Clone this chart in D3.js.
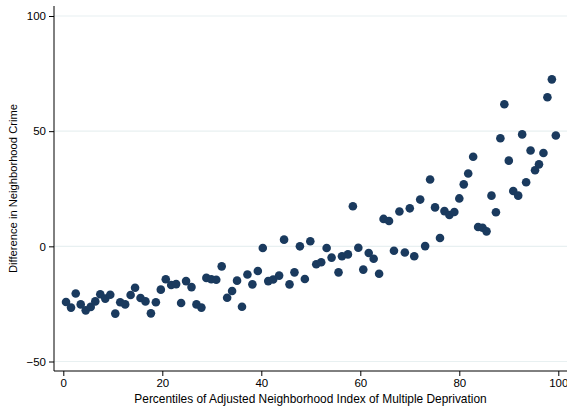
<!DOCTYPE html>
<html>
<head>
<meta charset="utf-8">
<script src="https://cdn.jsdelivr.net/npm/d3@7"></script>
<style>
  html, body { margin: 0; padding: 0; background: #fff; }
  svg { display: block; }
  text { font-family: "Liberation Sans", Arial, Helvetica, sans-serif; fill: #000; }
</style>
</head>
<body>
<svg id="chart" width="567" height="410"></svg>
<script>
// Percentile (x) values
const percentiles = [
  0.55, 1.56, 2.51, 3.52, 4.53, 5.54, 6.46, 7.47, 8.48, 9.49,
  10.5, 11.5, 12.5, 13.6, 14.5, 15.6, 16.6, 17.7, 18.7, 19.7,
  20.7, 21.8, 22.8, 23.8, 24.8, 25.9, 26.9, 27.9, 28.9, 29.9,
  30.9, 32.0, 33.1, 34.1, 35.1, 36.1, 37.2, 38.2, 39.3, 40.3,
  41.4, 42.4, 43.6, 44.6, 45.7, 46.7, 47.8, 48.8, 49.9, 51.1,
  52.1, 53.2, 54.2, 55.6, 56.3, 57.5, 58.5, 59.6, 60.6, 61.7,
  62.7, 63.8, 64.7, 65.8, 66.8, 67.9, 69.0, 70.0, 70.9, 72.1,
  73.1, 74.1, 75.1, 76.1, 77.0, 78.0, 79.0, 80.0, 80.9, 81.8,
  82.8, 83.8, 84.7, 85.5, 86.5, 87.4, 88.3, 89.1, 90.0, 90.9,
  91.9, 92.7, 93.5, 94.4, 95.3, 96.1, 97.0, 97.8, 98.7, 99.5
];
// Difference in neighborhood crime (y) values
const crimeDiff = [
  -24.2, -26.6, -20.5, -25.2, -27.8, -26.3, -23.9, -20.8, -22.7, -21.0,
  -29.2, -24.3, -25.2, -21.1, -18.0, -22.4, -23.9, -29.1, -24.3, -18.8,
  -14.3, -16.8, -16.4, -24.6, -15.1, -17.7, -25.2, -26.6, -13.7, -14.3,
  -14.5, -8.7, -22.3, -19.4, -14.9, -26.2, -12.2, -16.5, -10.7, -0.7,
  -15.1, -14.4, -12.7, 2.9, -16.5, -11.3, 0.0, -14.2, 2.2, -7.8,
  -6.9, -0.7, -4.9, -11.3, -4.3, -3.5, 17.4, -0.6, -10.1, -2.9,
  -5.4, -11.9, 11.9, 11.0, -1.9, 15.1, -2.7, 16.5, -4.3, 20.3,
  0.1, 29.0, 16.9, 3.6, 15.3, 13.6, 14.9, 20.8, 26.9, 31.6,
  38.9, 8.4, 8.1, 6.5, 22.0, 14.8, 46.9, 61.7, 37.2, 24.0,
  22.0, 48.6, 27.8, 41.6, 33.0, 35.6, 40.5, 64.7, 72.5, 48.1
];
const xTicks = [0, 20, 40, 60, 80, 100];
const yTicks = [-50, 0, 50, 100];
const xTitle = "Percentiles of Adjusted Neighborhood Index of Multiple Deprivation";
const yTitle = "Difference in Neighborhood Crime";

const svg = d3.select("#chart");
const pLeft = 54, pRight = 567, pTop = 6, pBottom = 371;

const x = d3.scaleLinear().domain([0, 100]).range([63.3, 558.3]);
const y = d3.scaleLinear().domain([-50, 100]).range([361.5, 16]);

// grid lines
svg.append("g").selectAll("line").data(yTicks).join("line")
  .attr("x1", pLeft).attr("x2", pRight)
  .attr("y1", d => y(d)).attr("y2", d => y(d))
  .attr("stroke", "#e8f0f1").attr("stroke-width", 1.2);

// points
svg.append("g").selectAll("circle").data(percentiles.map((p, i) => [p, crimeDiff[i]]))
  .join("circle")
  .attr("cx", d => x(d[0])).attr("cy", d => y(d[1]))
  .attr("r", 4.3)
  .attr("fill", "#1a3a5e");

// axes
const yAxis = d3.axisLeft(y).tickValues(yTicks).tickSize(5).tickPadding(3);
const gy = svg.append("g").attr("transform", `translate(${pLeft},0)`).call(yAxis);
gy.select(".domain").attr("d", `M0,${pTop}V${pBottom}`).attr("stroke", "#000").attr("stroke-width", 1);
gy.selectAll(".tick line").attr("stroke", "#000");
gy.selectAll(".tick text").attr("font-size", 11.5).attr("font-family", "Liberation Sans, Arial, sans-serif");

const xAxis = d3.axisBottom(x).tickValues(xTicks).tickSize(5).tickPadding(3);
const gx = svg.append("g").attr("transform", `translate(0,${pBottom})`).call(xAxis);
gx.select(".domain").attr("d", `M${pLeft},0H${pRight}`).attr("stroke", "#000").attr("stroke-width", 1);
gx.selectAll(".tick line").attr("stroke", "#000");
gx.selectAll(".tick text").attr("font-size", 11.5).attr("font-family", "Liberation Sans, Arial, sans-serif");

// titles
svg.append("text")
  .attr("x", (pLeft + pRight) / 2).attr("y", 403)
  .attr("text-anchor", "middle").attr("font-size", 11.9)
  .text(xTitle);
svg.append("text")
  .attr("transform", `translate(16.5,${(pTop + pBottom) / 2}) rotate(-90)`)
  .attr("text-anchor", "middle").attr("font-size", 11.2)
  .text(yTitle);
</script>
</body>
</html>
